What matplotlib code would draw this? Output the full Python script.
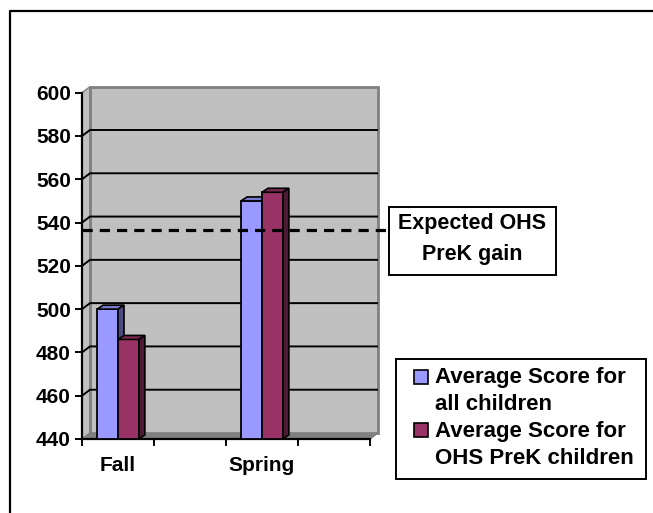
import numpy as np
import matplotlib
matplotlib.use('Agg')
import matplotlib.pyplot as plt
from matplotlib.patches import Polygon, Rectangle
from matplotlib.lines import Line2D

# ---------------- data ----------------
categories = ['Fall', '', 'Spring', '']
all_children = [500, np.nan, 550, np.nan]
ohs_prek = [486, np.nan, 554, np.nan]
expected_gain = 536.5
series_names = ['Average Score for\nall children', 'Average Score for\nOHS PreK children']
gain_label = 'Expected OHS\nPreK gain'
yticks = list(range(440, 601, 20))

# ---------------- style ----------------
plt.rcParams['font.family'] = ['Liberation Sans', 'DejaVu Sans']
plt.rcParams['font.weight'] = 'bold'

front_colors = ['#9999FF', '#993366']
top_colors = ['#7A7ACC', '#7A2952']
side_colors = ['#4C4C80', '#4C1A33']

W, H, DPI = 653, 513, 100
fig = plt.figure(figsize=(W / DPI, H / DPI), dpi=DPI)


def fx(x):
    return x / W


def fy(y):
    return 1 - y / H


ax = fig.add_axes([fx(82), fy(439), fx(370) - fx(82), fy(92.7) - fy(439)])
ax.set_xlim(0, len(categories))
ax.set_ylim(yticks[0], yticks[-1])
ax.patch.set_visible(False)

ymin, ymax = yticks[0], yticks[-1]
xmax = len(categories)


def off(x, y, dxp, dyp):
    X, Y = ax.transData.transform((x, y))
    return tuple(ax.transData.inverted().transform((X + dxp, Y + dyp)))


WD = (8, 6)   # wall depth in pixels
BD = (6, 4)   # bar depth in pixels

# side wall
ax.add_patch(Polygon([(0, ymin), (0, ymax), off(0, ymax, *WD), off(0, ymin, *WD)],
                     closed=True, facecolor='#C0C0C0', edgecolor='#808080', lw=1,
                     clip_on=False, zorder=0.5))
# floor
ax.add_patch(Polygon([(0, ymin), (xmax, ymin), off(xmax, ymin, *WD), off(0, ymin, *WD)],
                     closed=True, facecolor='#808080', edgecolor='#808080', lw=1,
                     clip_on=False, zorder=0.5))
# back wall
bl = off(0, ymin, *WD)
tr = off(xmax, ymax, *WD)
ax.add_patch(Rectangle(bl, tr[0] - bl[0], tr[1] - bl[1], facecolor='#C0C0C0',
                       edgecolor='#808080', lw=2, clip_on=False, zorder=0.55))
# gridlines
for v in yticks[1:-1]:
    p1 = off(0, v, *WD)
    p2 = off(xmax, v, *WD)
    ax.plot([0, p1[0], p2[0]], [v, p1[1], p2[1]], color='black', lw=1.4,
            clip_on=False, zorder=0.6, solid_capstyle='butt')

# bars
w = 0.29
centers = np.arange(len(categories)) + 0.5
for i, vals in enumerate([all_children, ohs_prek]):
    vals = np.array(vals, dtype=float)
    mask = ~np.isnan(vals)
    xs = centers[mask] + (i - 0.5) * w
    hs = vals[mask] - ymin
    z = 2 + i * 0.3
    ax.bar(xs, hs, bottom=ymin, width=w, color=front_colors[i], edgecolor='black',
           lw=1.3, zorder=z)
    for xc, v in zip(xs, vals[mask]):
        x0, x1 = xc - w / 2, xc + w / 2
        ax.add_patch(Polygon([(x0, v), (x1, v), off(x1, v, *BD), off(x0, v, *BD)],
                             closed=True, facecolor=top_colors[i], edgecolor='black',
                             lw=1.2, clip_on=False, zorder=z + 0.1))
        ax.add_patch(Polygon([(x1, ymin), (x1, v), off(x1, v, *BD), off(x1, ymin, *BD)],
                             closed=True, facecolor=side_colors[i], edgecolor='black',
                             lw=1.2, clip_on=False, zorder=z + 0.1))

# axes styling
for s in ['top', 'right']:
    ax.spines[s].set_visible(False)
for s in ['left', 'bottom']:
    ax.spines[s].set_linewidth(1.6)
    ax.spines[s].set_zorder(1.5)
ax.set_yticks(yticks)
ax.tick_params(axis='y', direction='out', length=5, width=1.4, pad=3, labelsize=15)
ax.set_xticks(centers)
ax.set_xticklabels(categories)
ax.tick_params(axis='x', which='major', length=0, pad=12, labelsize=15)
ax.set_xticks(np.arange(len(categories) + 1), minor=True)
ax.tick_params(axis='x', which='minor', direction='out', length=5, width=1.4)
for lab in ax.get_xticklabels() + ax.get_yticklabels():
    lab.set_fontweight('bold')

# expected gain box
bx0, by0, bx1, by1 = 389.3, 206.7, 555.7, 275
fig.add_artist(Rectangle((fx(bx0), fy(by1)), fx(bx1) - fx(bx0), fy(by0) - fy(by1),
                         transform=fig.transFigure, facecolor='white', edgecolor='black',
                         lw=1.4, zorder=5))
for k, line in enumerate(gain_label.split('\n')):
    fig.text(fx((bx0 + bx1) / 2), fy(229.3 + 30.7 * k), line, ha='center', va='baseline',
             fontsize=15.5, fontweight='bold', zorder=6)

# dashed expected line
x_end = ax.transData.inverted().transform((bx0, 0))[0]
ax.plot([0, x_end], [expected_gain, expected_gain], color='black', lw=2.3,
        linestyle=(0, (3.2, 2.2)), clip_on=False, zorder=4)

# legend
lx0, ly0, lx1, ly1 = 395.7, 359, 646, 478.7
fig.add_artist(Rectangle((fx(lx0), fy(ly1)), fx(lx1) - fx(lx0), fy(ly0) - fy(ly1),
                         transform=fig.transFigure, facecolor='white', edgecolor='black',
                         lw=1.4, zorder=5))
for i, name in enumerate(series_names):
    base = 383.3 + 53.4 * i
    fig.add_artist(Rectangle((fx(414), fy(base + 0.5)), fx(14), fy(0) - fy(14),
                             transform=fig.transFigure, facecolor=front_colors[i],
                             edgecolor='black', lw=1.2, zorder=6))
    for k, line in enumerate(name.split('\n')):
        fig.text(fx(435), fy(base + 27 * k), line, ha='left', va='baseline',
                 fontsize=16, fontweight='bold', zorder=6)

# outer frame
fig.add_artist(Line2D([fx(10), fx(10), fx(670)], [fy(530), fy(11), fy(11)],
                      transform=fig.transFigure, color='black', lw=1.6))

fig.savefig('out.png', dpi=DPI)
